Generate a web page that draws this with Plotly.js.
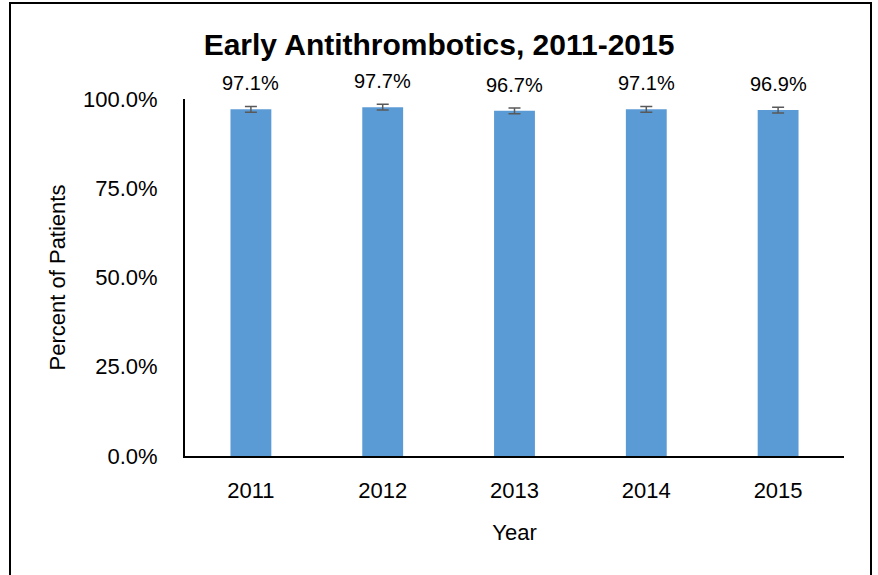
<!DOCTYPE html>
<html>
<head>
<meta charset="utf-8">
<script src="https://cdn.plot.ly/plotly-3.0.1.min.js"></script>
<style>html,body{margin:0;padding:0;background:#fff;}#chart{width:878px;height:575px;}</style>
</head>
<body>
<div id="chart"></div>
<script>
const years = ['2011', '2012', '2013', '2014', '2015'];
const percentPatients = [97.1, 97.7, 96.7, 97.1, 96.9];
const errorMargin = [0.8, 0.8, 0.8, 0.8, 0.8];
const yTickValues = [0, 25, 50, 75, 100];
const yTickLabels = ['0.0%', '25.0%', '50.0%', '75.0%', '100.0%'];

const FONT = '"Liberation Sans", Arial, sans-serif';

const trace = {
  type: 'bar',
  x: years,
  y: percentPatients,
  marker: {color: '#5B9BD5'},
  error_y: {type: 'data', array: errorMargin, visible: true, color: '#595959', thickness: 1.5, width: 6},
  hoverinfo: 'none'
};

const annotations = years.map((yr, i) => ({
  x: i, y: percentPatients[i], xref: 'x', yref: 'y',
  text: percentPatients[i].toFixed(1) + '%',
  showarrow: false, yanchor: 'bottom', yshift: 13,
  font: {family: FONT, size: 20, color: '#000'}
}));

const layout = {
  width: 878, height: 575,
  margin: {l: 185, r: 34, t: 99, b: 119},
  paper_bgcolor: '#fff', plot_bgcolor: '#fff',
  showlegend: false,
  bargap: 0.69,
  font: {family: FONT, color: '#000'},
  title: {text: '<b>Early Antithrombotics, 2011-2015</b>', font: {family: FONT, size: 30, color: '#000'}, x: 0.5, xanchor: 'center', y: 0.922, yanchor: 'middle'},
  xaxis: {
    type: 'category', showline: true, linecolor: '#000', linewidth: 2,
    ticks: 'outside', ticklen: 14, tickcolor: 'rgba(0,0,0,0)',
    showgrid: false, zeroline: false, tickfont: {family: FONT, size: 22, color: '#000'},
    title: {text: 'Year', font: {family: FONT, size: 22, color: '#000'}, standoff: 22}
  },
  yaxis: {
    range: [0, 100], tickmode: 'array', tickvals: yTickValues, ticktext: yTickLabels,
    showline: true, linecolor: '#000', linewidth: 2,
    ticks: 'outside', ticklen: 21, tickcolor: 'rgba(0,0,0,0)',
    showgrid: false, zeroline: false, tickfont: {family: FONT, size: 22, color: '#000'},
    title: {text: 'Percent of Patients', font: {family: FONT, size: 22, color: '#000'}, standoff: 11}
  },
  annotations: annotations,
  shapes: [{
    type: 'rect', xref: 'paper', yref: 'paper',
    x0: (10 - 185) / 659, x1: (871 - 185) / 659,
    y0: (456 - 590) / 357, y1: (456 - 3) / 357,
    line: {color: '#000', width: 2}, fillcolor: 'rgba(0,0,0,0)', layer: 'above'
  }]
};

Plotly.newPlot('chart', [trace], layout, {displayModeBar: false, staticPlot: true});
</script>
</body>
</html>
